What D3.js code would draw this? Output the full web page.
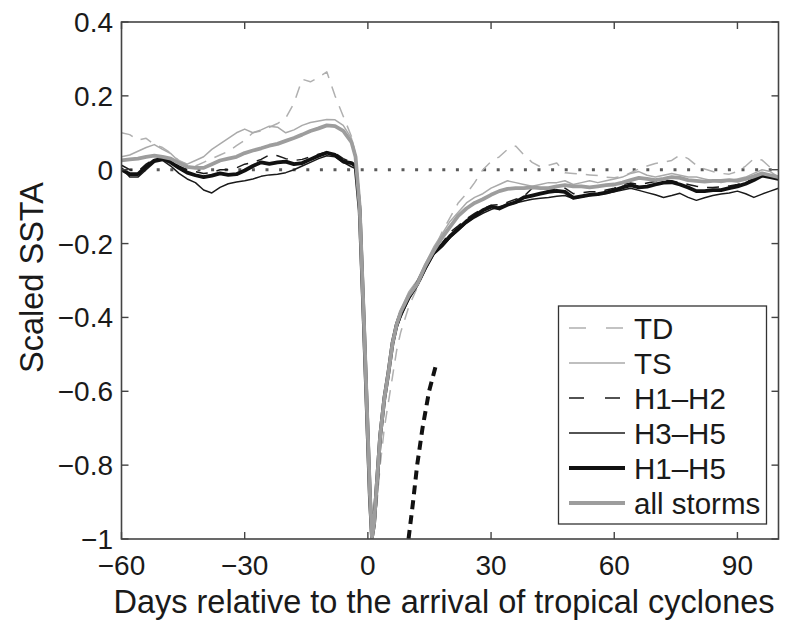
<!DOCTYPE html>
<html>
<head>
<meta charset="utf-8">
<script src="https://cdn.jsdelivr.net/npm/d3@7/dist/d3.min.js"></script>
<style>
  body { margin: 0; background: #fff; }
  svg { display: block; font-family: "Liberation Sans", Arial, sans-serif; }
</style>
</head>
<body>
<svg id="chart" width="785" height="621"></svg>
<script>
// days after storm arrival (shared by every series)
var days = [-60,-58,-56,-54,-52,-50,-48,-46,-44,-42,-40,-38,-36,-34,-32,-30,-28,-26,-24,-22,-20,-18,-16,-14,-12,-10,-8,-6,-4,
  -3,-2,-1,0,0.5,1,1.5,2,3,4,5,6,7,8,
  10,12,14,16,18,20,22,24,26,28,30,32,34,36,38,40,42,44,46,48,50,52,54,56,58,60,62,64,66,68,70,72,74,76,78,80,82,84,86,88,90,92,94,96,98,100];

var tdValues = [0.10,0.095,0.08,0.085,0.068,0.06,0.045,0.025,0.015,0.01,0.02,0.03,0.04,0.05,0.065,0.08,0.1,0.105,0.115,0.125,0.14,0.18,0.245,0.238,0.25,0.265,0.2,0.145,0.09,
  0.04,-0.1,-0.4,-0.72,-0.88,-0.99,-0.98,-0.93,-0.8,-0.7,-0.63,-0.56,-0.49,-0.44,
  -0.37,-0.32,-0.27,-0.22,-0.17,-0.13,-0.09,-0.065,-0.035,0.0,0.022,0.035,0.055,0.064,0.04,0.02,0.008,0.012,0.018,-0.008,-0.01,-0.012,-0.014,-0.016,-0.02,-0.022,-0.018,-0.008,0.002,0.01,0.017,0.02,0.025,0.04,0.03,0.012,0.002,-0.005,-0.01,-0.012,-0.005,0.01,0.03,0.026,0.006,-0.005];

var tsValues = [0.035,0.04,0.05,0.06,0.068,0.055,0.044,0.022,0.015,0.025,0.035,0.055,0.07,0.085,0.1,0.11,0.1,0.108,0.118,0.115,0.1,0.108,0.12,0.128,0.132,0.136,0.135,0.12,0.085,
  0.04,-0.09,-0.39,-0.71,-0.87,-0.99,-0.96,-0.88,-0.72,-0.61,-0.54,-0.46,-0.41,-0.38,
  -0.33,-0.3,-0.255,-0.21,-0.175,-0.14,-0.115,-0.09,-0.075,-0.065,-0.05,-0.04,-0.03,-0.035,-0.04,-0.045,-0.04,-0.035,-0.035,-0.03,-0.04,-0.035,-0.03,-0.035,-0.03,-0.025,-0.02,-0.01,-0.005,-0.015,-0.02,-0.015,-0.01,-0.015,-0.02,-0.02,-0.025,-0.03,-0.035,-0.03,-0.025,-0.02,-0.01,0.0,-0.005,-0.02];

var h12Values = [0.012,0.0,-0.005,0.015,0.03,0.035,0.025,0.01,0.0,-0.005,-0.01,-0.008,0.0,0.0,0.005,0.015,0.02,0.028,0.04,0.038,0.03,0.025,0.028,0.035,0.042,0.048,0.045,0.03,0.02,
  0.012,-0.11,-0.41,-0.73,-0.89,-0.99,-0.96,-0.88,-0.73,-0.62,-0.55,-0.47,-0.42,-0.39,
  -0.34,-0.305,-0.26,-0.22,-0.2,-0.17,-0.152,-0.133,-0.118,-0.106,-0.096,-0.095,-0.088,-0.08,-0.072,-0.05,-0.048,-0.055,-0.052,-0.05,-0.065,-0.062,-0.06,-0.06,-0.055,-0.05,-0.04,-0.036,-0.04,-0.036,-0.032,-0.03,-0.03,-0.035,-0.04,-0.045,-0.048,-0.048,-0.046,-0.044,-0.04,-0.033,-0.025,-0.015,-0.018,-0.02];

var h35Values = [0.005,-0.02,-0.02,0.0,0.02,0.025,0.01,-0.01,-0.025,-0.035,-0.055,-0.063,-0.048,-0.038,-0.033,-0.03,-0.025,-0.018,-0.014,-0.012,-0.008,0.0,0.01,0.02,0.03,0.038,0.035,0.02,0.008,
  0.003,-0.12,-0.42,-0.74,-0.9,-0.99,-0.95,-0.87,-0.72,-0.62,-0.55,-0.48,-0.43,-0.4,
  -0.35,-0.315,-0.27,-0.23,-0.21,-0.185,-0.165,-0.145,-0.13,-0.118,-0.108,-0.1,-0.095,-0.09,-0.085,-0.08,-0.077,-0.075,-0.072,-0.07,-0.078,-0.074,-0.07,-0.068,-0.064,-0.06,-0.055,-0.05,-0.056,-0.062,-0.068,-0.075,-0.07,-0.064,-0.075,-0.083,-0.076,-0.07,-0.066,-0.063,-0.058,-0.065,-0.075,-0.066,-0.058,-0.05];

var h15Values = [0.0,-0.012,-0.012,0.008,0.025,0.03,0.02,0.005,-0.008,-0.015,-0.02,-0.016,-0.01,-0.014,-0.012,-0.002,0.01,0.02,0.016,0.02,0.022,0.015,0.018,0.028,0.038,0.046,0.04,0.022,0.018,
  0.01,-0.11,-0.41,-0.73,-0.89,-0.995,-0.96,-0.88,-0.72,-0.62,-0.55,-0.47,-0.42,-0.39,
  -0.345,-0.31,-0.265,-0.225,-0.205,-0.18,-0.16,-0.14,-0.125,-0.11,-0.1,-0.105,-0.095,-0.088,-0.075,-0.07,-0.065,-0.06,-0.057,-0.06,-0.076,-0.072,-0.068,-0.066,-0.062,-0.056,-0.048,-0.042,-0.048,-0.046,-0.04,-0.035,-0.034,-0.04,-0.048,-0.058,-0.058,-0.055,-0.055,-0.05,-0.045,-0.038,-0.028,-0.016,-0.02,-0.025];

var allValues = [0.025,0.028,0.03,0.035,0.038,0.035,0.03,0.018,0.008,0.005,0.005,0.015,0.025,0.03,0.035,0.045,0.052,0.058,0.065,0.07,0.078,0.086,0.095,0.105,0.112,0.12,0.118,0.105,0.075,
  0.035,-0.1,-0.4,-0.72,-0.88,-0.995,-0.96,-0.88,-0.72,-0.62,-0.55,-0.47,-0.42,-0.385,
  -0.34,-0.31,-0.26,-0.22,-0.185,-0.155,-0.125,-0.105,-0.09,-0.08,-0.068,-0.058,-0.052,-0.05,-0.05,-0.048,-0.05,-0.05,-0.045,-0.042,-0.045,-0.045,-0.048,-0.045,-0.042,-0.04,-0.035,-0.028,-0.022,-0.025,-0.028,-0.025,-0.02,-0.022,-0.028,-0.03,-0.032,-0.03,-0.03,-0.028,-0.03,-0.025,-0.018,-0.01,-0.015,-0.02];

// thick dashed black curve near day 10-17
var fitDays = [9.9, 11, 12, 13.3, 14.9, 16.8];
var fitValues = [-1.0, -0.9, -0.8, -0.7, -0.6, -0.52];

var xTicks = [-60, -30, 0, 30, 60, 90];
var yTicks = [0.4, 0.2, 0, -0.2, -0.4, -0.6, -0.8, -1];

var seriesNames = ["TD", "TS", "H1\u2013H2", "H3\u2013H5", "H1\u2013H5", "all storms"];
var seriesData = [tdValues, tsValues, h12Values, h35Values, h15Values, allValues];
var seriesColor = ["#b0b0b0", "#aaaaaa", "#1a1a1a", "#1a1a1a", "#111", "#9d9d9d"];
var seriesWidth = [1.5, 1.5, 1.5, 1.5, 3.8, 3.8];
var seriesDash = ["12,9", null, "12,9", null, null, null];

var svg = d3.select("#chart");
var pLeft = 121.5, pRight = 778.5, pTop = 22, pBottom = 539;

var x = d3.scaleLinear().domain([-60, 100]).range([pLeft, pRight]);
var y = d3.scaleLinear().domain([-1, 0.4]).range([pBottom, pTop]);

function fmt(v) {
  var s = (Math.round(v * 10) / 10).toString();
  return s.replace("-", "\u2212");
}

svg.append("clipPath").attr("id", "plotclip")
  .append("rect").attr("x", pLeft).attr("y", pTop)
  .attr("width", pRight - pLeft).attr("height", pBottom - pTop);

var plot = svg.append("g").attr("clip-path", "url(#plotclip)");

// zero reference
plot.append("line")
  .attr("x1", x(-60) + 8).attr("x2", x(100))
  .attr("y1", y(0)).attr("y2", y(0))
  .attr("stroke", "#5a5a5a").attr("stroke-width", 3)
  .attr("stroke-dasharray", "3,10.6");

var line = d3.line()
  .x(function(d) { return x(d[0]); })
  .y(function(d) { return y(d[1]); });

seriesData.forEach(function(vals, i) {
  var pts = days.map(function(d, j) { return [d, vals[j]]; });
  plot.append("path")
    .attr("d", line(pts))
    .attr("fill", "none")
    .attr("stroke", seriesColor[i])
    .attr("stroke-width", seriesWidth[i])
    .attr("stroke-linejoin", "round")
    .attr("stroke-dasharray", seriesDash[i]);
});

plot.append("path")
  .attr("d", line(fitDays.map(function(d, j) { return [d, fitValues[j]]; })))
  .attr("fill", "none")
  .attr("stroke", "#111")
  .attr("stroke-width", 4)
  .attr("stroke-dasharray", "9,6");

// axes box + inward ticks on all sides
var axisColor = "#444";
var tickLen = 7;
var ax = svg.append("g");

ax.append("rect")
  .attr("x", pLeft).attr("y", pTop)
  .attr("width", pRight - pLeft).attr("height", pBottom - pTop)
  .attr("fill", "none").attr("stroke", axisColor).attr("stroke-width", 1.6);

xTicks.forEach(function(t) {
  ax.append("line").attr("x1", x(t)).attr("x2", x(t))
    .attr("y1", pBottom).attr("y2", pBottom - tickLen)
    .attr("stroke", axisColor).attr("stroke-width", 1.4);
  ax.append("line").attr("x1", x(t)).attr("x2", x(t))
    .attr("y1", pTop).attr("y2", pTop + tickLen)
    .attr("stroke", axisColor).attr("stroke-width", 1.4);
  ax.append("text")
    .attr("x", x(t)).attr("y", 575)
    .attr("text-anchor", "middle")
    .attr("font-size", 28).attr("fill", "#1a1a1a")
    .text(fmt(t));
});

yTicks.forEach(function(t) {
  ax.append("line").attr("x1", pLeft).attr("x2", pLeft + tickLen)
    .attr("y1", y(t)).attr("y2", y(t))
    .attr("stroke", axisColor).attr("stroke-width", 1.4);
  ax.append("line").attr("x1", pRight).attr("x2", pRight - tickLen)
    .attr("y1", y(t)).attr("y2", y(t))
    .attr("stroke", axisColor).attr("stroke-width", 1.4);
  ax.append("text")
    .attr("x", 113).attr("y", y(t) + 10)
    .attr("text-anchor", "end")
    .attr("font-size", 28).attr("fill", "#1a1a1a")
    .text(fmt(t));
});

svg.append("text")
  .attr("x", 444).attr("y", 613)
  .attr("text-anchor", "middle")
  .attr("font-size", 32.5).attr("fill", "#1a1a1a")
  .text("Days relative to the arrival of tropical cyclones");

svg.append("text")
  .attr("transform", "translate(43," + ((pTop + pBottom) / 2 - 3) + ") rotate(-90)")
  .attr("text-anchor", "middle")
  .attr("font-size", 32.5).attr("fill", "#1a1a1a")
  .text("Scaled SSTA");

// legend
var lg = svg.append("g");
lg.append("rect")
  .attr("x", 558.5).attr("y", 306)
  .attr("width", 208).attr("height", 218)
  .attr("fill", "#fff").attr("stroke", "#333").attr("stroke-width", 1.3);

var legendDash = ["17,20", null, "15,21", null, null, null];
seriesNames.forEach(function(name, i) {
  var ly = 328 + i * 35;
  lg.append("line")
    .attr("x1", 569).attr("x2", 625)
    .attr("y1", ly).attr("y2", ly)
    .attr("stroke", seriesColor[i])
    .attr("stroke-width", i >= 4 ? 4.2 : seriesWidth[i])
    .attr("stroke-dasharray", legendDash[i]);
  lg.append("text")
    .attr("x", 634).attr("y", ly + 10.5)
    .attr("font-size", 29.5).attr("fill", "#1a1a1a")
    .text(name);
});
</script>
</body>
</html>
